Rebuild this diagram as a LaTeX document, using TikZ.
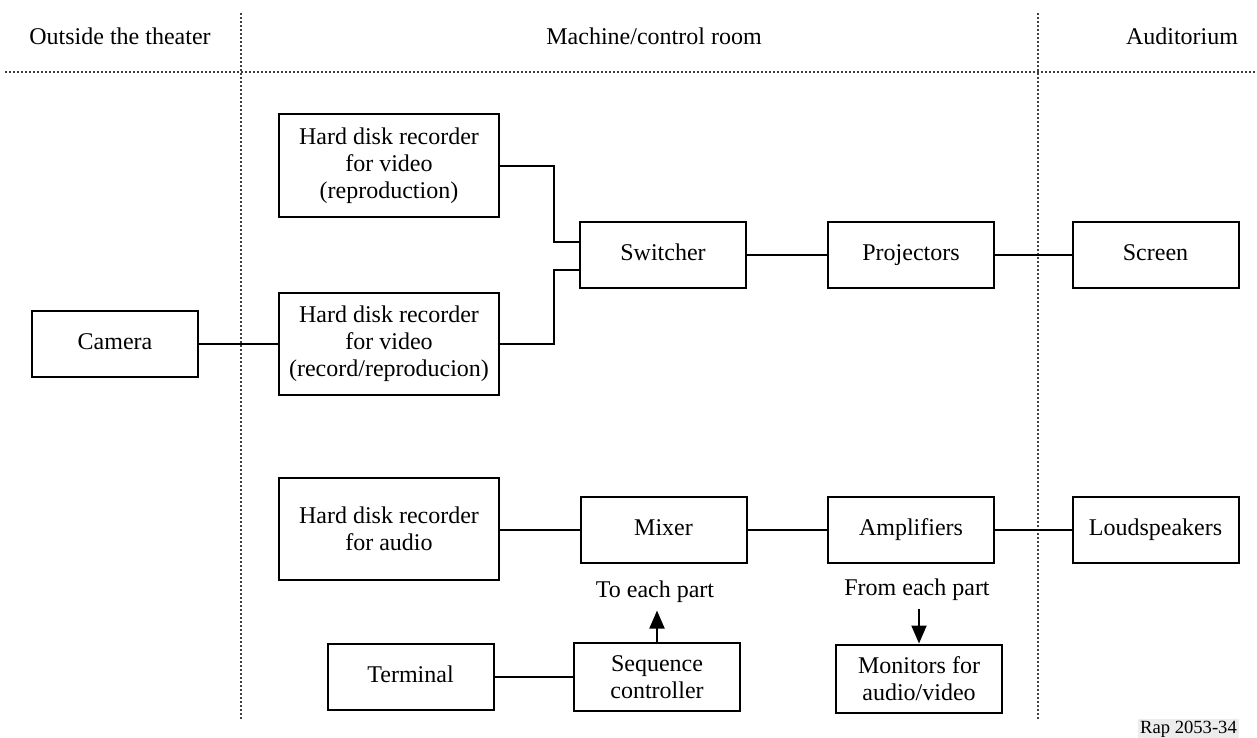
\documentclass[tikz,border=0pt]{standalone}
\usepackage{fontspec}
\setmainfont{Liberation Serif}
\usetikzlibrary{arrows.meta}
\begin{document}
\begin{tikzpicture}[x=0.5pt, y=-0.5pt, line width=1pt,
  font=\fontsize{12}{13.5}\selectfont,
  frame/.style={draw, align=center, inner sep=0pt, minimum width=83pt, minimum height=33pt},
  box/.style={frame, text height=8.2pt, text depth=2.6pt},
  bigbox/.style={frame, minimum width=110pt, minimum height=51pt},
  divider/.style={black!75, line width=1pt, densely dotted},
  arr/.style={-{Triangle[length=9pt, width=7.5pt]}}]
  \useasboundingbox (0,0) rectangle (1257,738);
  \draw[divider] (5,72) -- (1257,72);
  \draw[divider] (241,13) -- (241,720);
  \draw[divider] (1038,13) -- (1038,720);
  \node (outside) at (120,36) {Outside the theater};
  \node (machine) at (654,36) {Machine/control room};
  \node (audit) at (1182,36) {Auditorium};
  \node[box] (camera) at (115,344) {Camera};
  \node[bigbox] (hdrrep) at (389,165.5) {Hard disk recorder\\for video\\(reproduction)};
  \node[bigbox] (hdrrec) at (389,344) {Hard disk recorder\\for video\\(record/reproducion)};
  \node[bigbox] (hdraud) at (389,529) {Hard disk recorder\\for audio};
  \node[box] (switcher) at (663,255) {Switcher};
  \node[box] (proj) at (911,255) {Projectors};
  \node[box] (screen) at (1155.5,255) {Screen};
  \node[box] (mixer) at (663.5,529.5) {Mixer};
  \node[box] (amp) at (911,529.5) {Amplifiers};
  \node[box] (spk) at (1155.5,529.5) {Loudspeakers};
  \node[box] (terminal) at (410.5,677) {Terminal};
  \node[frame, minimum height=34pt] (seqctl) at (657,677) {Sequence\\controller};
  \node[frame, minimum height=34pt] (monitors) at (919,678.5) {Monitors for\\audio/video};
  \node (toeach) at (655,592) {To each part};
  \node (fromeach) at (917,590) {From each part};
  \node[fill=gray!15, inner sep=1pt, font=\fontsize{9.3}{10}\selectfont] (rap) at (1188.5,729) {Rap 2053-34};
  \coordinate (jtop) at (554,242);
  \coordinate (jbot) at (554,270);
  \draw (hdrrep.east) -| (jtop) -- (jtop -| switcher.west);
  \draw (hdrrec.east) -| (jbot) -- (jbot -| switcher.west);
  \draw (camera) -- (hdrrec);
  \draw (switcher) -- (proj);
  \draw (proj) -- (screen);
  \draw (hdraud.east |- mixer) -- (mixer);
  \draw (mixer) -- (amp);
  \draw (amp) -- (spk);
  \draw (terminal) -- (seqctl);
  \draw[arr] (seqctl.north) -- (seqctl.north |- toeach.south);
  \draw[arr] (monitors.north |- fromeach.south) -- (monitors.north);
\end{tikzpicture}
\end{document}
